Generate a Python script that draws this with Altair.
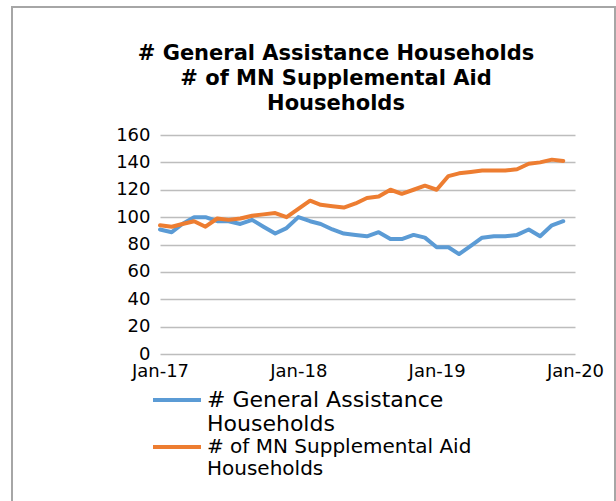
import altair as alt
import pandas as pd

months = [d.strftime("%Y-%m-%d") for d in pd.date_range("2017-01-01", periods=36, freq="MS")]
general_assistance = [91, 89, 95, 100, 100, 97, 97, 95, 98, 93, 88, 92,
                      100, 97, 95, 91, 88, 87, 86, 89, 84, 84, 87, 85,
                      78, 78, 73, 79, 85, 86, 86, 87, 91, 86, 94, 97]
mn_supplemental = [94, 93, 95, 97, 93, 99, 98, 99, 101, 102, 103, 100,
                   106, 112, 109, 108, 107, 110, 114, 115, 120, 117, 120, 123,
                   120, 130, 132, 133, 134, 134, 134, 135, 139, 140, 142, 141]
series_names = ["# General Assistance Households", "# of MN Supplemental Aid Households"]
legend_lines = [["# General Assistance", "Households"], ["# of MN Supplemental Aid", "Households"]]
colors = ["#5B9BD5", "#ED7D31"]
tick_dates = ["2017-01-01", "2018-01-01", "2019-01-01", "2020-01-01"]
title_lines = ["# General Assistance Households", "# of MN Supplemental Aid", "Households"]

df_ga = pd.DataFrame({"month": months, "series": series_names[0], "value": general_assistance})
df_mn = pd.DataFrame({"month": months, "series": series_names[1], "value": mn_supplemental})

x_enc = alt.X("month:T",
              scale=alt.Scale(domain=["2017-01-01", "2020-01-01"]),
              axis=alt.Axis(values=tick_dates, format="%b-%y", title=None, grid=False,
                            domain=False, ticks=False, labelPadding=8,
                            labelFont="DejaVu Sans", labelFontSize=18, labelColor="#000000",
                            labelOverlap=False, labelFlush=False))
y_enc = alt.Y("value:Q",
              scale=alt.Scale(domain=[0, 160], nice=False),
              axis=alt.Axis(values=list(range(0, 161, 20)), title=None, domain=False, ticks=False,
                            labelPadding=10, labelFont="DejaVu Sans", labelFontSize=18,
                            labelColor="#000000", gridColor="#bdbdbd", gridWidth=1.5))


def legend(lines, y, size):
    expr = "[" + ", ".join("'" + s + "'" for s in lines) + "]"
    return alt.Legend(title=None, orient="none", legendX=-9, legendY=y,
                      symbolType="stroke", symbolSize=2304, symbolStrokeWidth=4,
                      labelExpr=expr, labelFont="DejaVu Sans", labelFontSize=size,
                      labelColor="#000000", labelLimit=400, labelOffset=4, padding=0)


line_ga = alt.Chart(df_ga).mark_line(strokeWidth=4, strokeJoin="round", strokeCap="round").encode(
    x=x_enc, y=y_enc,
    color=alt.Color("series:N", scale=alt.Scale(domain=[series_names[0]], range=[colors[0]]),
                    legend=legend(legend_lines[0], 239, 22)),
)
line_mn = alt.Chart(df_mn).mark_line(strokeWidth=4, strokeJoin="round", strokeCap="round").encode(
    x=x_enc, y=y_enc,
    stroke=alt.Stroke("series:N", scale=alt.Scale(domain=[series_names[1]], range=[colors[1]]),
                      legend=legend(legend_lines[1], 286, 20)),
)

frame = alt.Chart(alt.Data(values=[{}])).mark_rect(fill=None, stroke="#a6a6a6", strokeWidth=2).encode(
    x=alt.value(-148), x2=alt.value(455), y=alt.value(-128), y2=alt.value(380)
)

title = alt.Chart(alt.Data(values=[{}])).mark_text(
    text=title_lines, font="DejaVu Sans", fontSize=21, fontWeight="bold", color="#000000",
    align="center", baseline="alphabetic", lineHeight=25
).encode(x=alt.value(176), y=alt.value(-75))

chart = alt.layer(frame, title, line_ga, line_mn).properties(
    width=415, height=219,
    padding={"left": 160, "top": 135, "right": 41, "bottom": 147},
    autosize=alt.AutoSizeParams(type="none"),
).configure_view(stroke=None)

chart.save("out.html", embed_options={"renderer": "svg", "actions": False})
